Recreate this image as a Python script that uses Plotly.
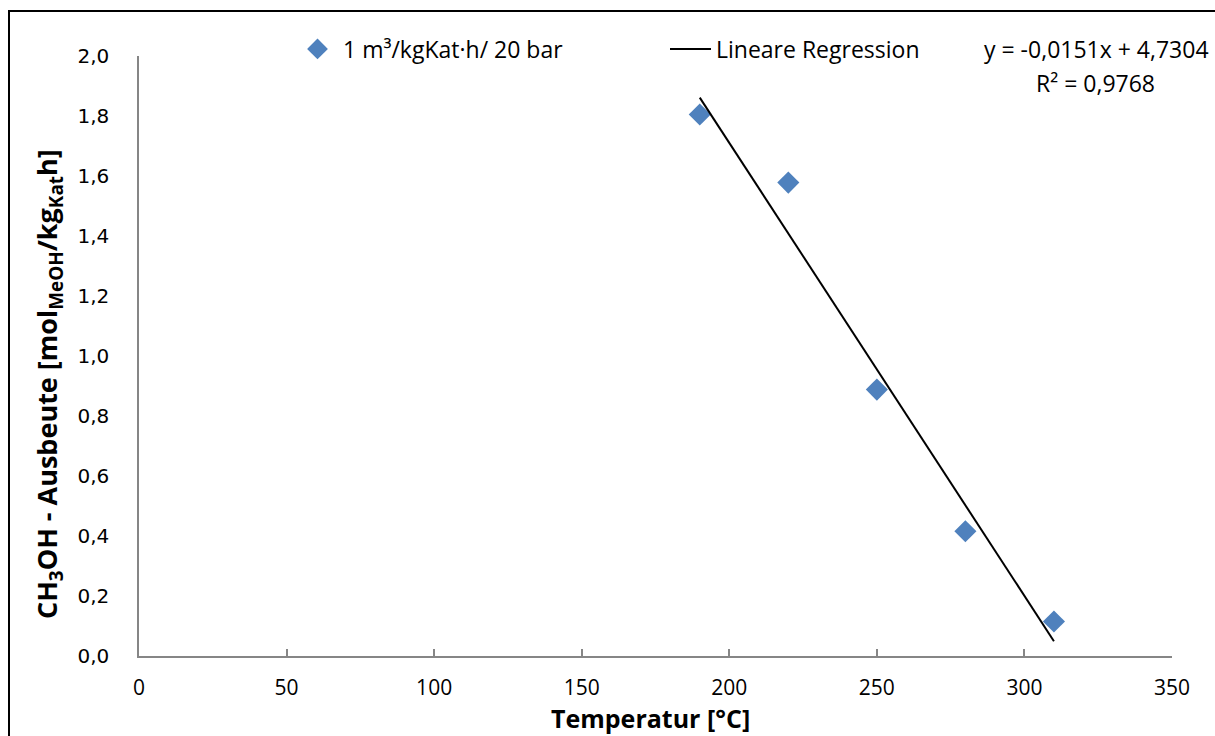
import plotly.graph_objects as go

temps = [190, 220, 250, 280, 310]
yields = [1.805, 1.578, 0.888, 0.416, 0.115]
slope = -0.0151
intercept = 4.7304
r2 = 0.9768
fit_x = [190, 310]
fit_y = [slope * x + intercept for x in fit_x]

series_name = "1 m³/kgKat·h/ 20 bar"
fit_name = "Lineare Regression"
eq_text = "y = -0,0151x + 4,7304"
r2_text = "R² = 0,9768"
x_title = "<b>Temperatur [°C]</b>"
y_title = "<b>CH<sub>3</sub>OH - Ausbeute [mol<sub>MeOH</sub>/kg<sub>Kat</sub>h]</b>"

main_font = "Open Sans, Lato, sans-serif"

fig = go.Figure()
fig.add_trace(go.Scatter(
    x=temps, y=yields, mode="markers", name=series_name,
    marker=dict(symbol="diamond", size=17, color="#4F81BD"),
))
fig.add_trace(go.Scatter(
    x=fit_x, y=fit_y, mode="lines", name=fit_name,
    line=dict(color="black", width=2),
))

W, H = 1215, 736
L, R, T, B = 139, 1215 - 1172, 56, 736 - 656
pw, ph = W - L - R, H - T - B

def px(xp):
    return (xp - L) / pw

def py(yp):
    return (H - B - yp) / ph

fig.update_layout(
    width=W, height=H,
    margin=dict(l=L, r=R, t=T, b=B),
    paper_bgcolor="white", plot_bgcolor="white",
    separators=",.",
    font=dict(family=main_font, size=20, color="black"),
    showlegend=True,
    legend=dict(
        orientation="h", x=px(292), y=py(49), xanchor="left", yanchor="middle",
        entrywidth=317, entrywidthmode="pixels",
        font=dict(family=main_font, size=23, color="black"),
        bgcolor="rgba(0,0,0,0)", itemwidth=41,
    ),
    xaxis=dict(
        range=[0, 350], dtick=50, tick0=0,
        showline=True, linecolor="#868686", linewidth=1.5,
        ticks="inside", ticklen=7, tickcolor="#868686", tickwidth=1.5,
        showgrid=False, zeroline=False,
        tickfont=dict(family=main_font, size=21, color="black"),
        ticklabelstandoff=12,
    ),
    yaxis=dict(
        range=[0, 2.0], dtick=0.2, tick0=0, tickformat=".1f",
        showline=True, linecolor="#868686", linewidth=1.5,
        ticks="", showgrid=False, zeroline=False,
        tickfont=dict(family="DejaVu Sans, Verdana, sans-serif", size=20, color="black"),
        ticklabelstandoff=24,
    ),
    shapes=[dict(
        type="rect", xref="paper", yref="paper",
        x0=px(9), x1=px(1240), y0=py(760), y1=py(11),
        line=dict(color="black", width=2), fillcolor="rgba(0,0,0,0)", layer="below",
    )],
    annotations=[
        dict(text=eq_text, xref="paper", yref="paper", x=px(1211), y=py(49),
             xanchor="right", yanchor="middle", showarrow=False,
             font=dict(family=main_font, size=23, color="black")),
        dict(text=r2_text, xref="paper", yref="paper", x=px(1157), y=py(83),
             xanchor="right", yanchor="middle", showarrow=False,
             font=dict(family=main_font, size=23, color="black")),
        dict(text=x_title, xref="paper", yref="paper", x=px(650), y=py(718),
             xanchor="center", yanchor="middle", showarrow=False,
             font=dict(family=main_font, size=25, color="black")),
        dict(text=y_title, xref="paper", yref="paper", x=px(48), y=py(384),
             xanchor="center", yanchor="middle", showarrow=False, textangle=-90,
             font=dict(family=main_font, size=27, color="black")),
    ],
)

fig.write_html("out.html")
